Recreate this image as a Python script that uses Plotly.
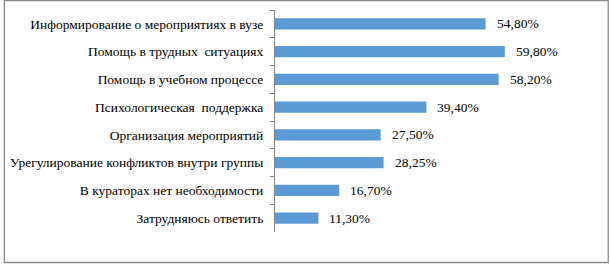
import plotly.graph_objects as go

categories = [
    "Информирование о мероприятиях в вузе",
    "Помощь в трудных  ситуациях",
    "Помощь в учебном процессе",
    "Психологическая  поддержка",
    "Организация мероприятий",
    "Урегулирование конфликтов внутри группы",
    "В кураторах нет необходимости",
    "Затрудняюсь ответить",
]
values = [54.80, 59.80, 58.20, 39.40, 27.50, 28.25, 16.70, 11.30]
value_labels = [f"{v:.2f}".replace(".", ",") + "%" for v in values]

W, H = 610, 265
ML, MT, MB = 273, 10, 33
XMAX = 70
PX_PER_UNIT = 3.869
PW = XMAX * PX_PER_UNIT
MR = W - ML - PW
PH = H - MT - MB

font = dict(family="Liberation Serif", size=13.5, color="#000000")

fig = go.Figure()
fig.add_trace(go.Bar(
    x=values, y=categories, orientation="h",
    marker=dict(color="#5B9BD5", line=dict(width=0)),
    hoverinfo="skip",
))

annotations = [
    dict(x=v, y=c, text=t, xref="x", yref="y", xanchor="left", yanchor="middle",
         xshift=9, showarrow=False, font=font)
    for v, c, t in zip(values, categories, value_labels)
]

def px2paper_x(px):
    return (px - ML) / PW

def px2paper_y(py):
    return 1 - (py - MT) / PH

fig.update_layout(
    width=W, height=H,
    margin=dict(l=ML, r=MR, t=MT, b=MB, pad=0),
    paper_bgcolor="white", plot_bgcolor="white",
    showlegend=False,
    bargap=0.6,
    font=font,
    annotations=annotations,
    shapes=[dict(type="rect", xref="paper", yref="paper",
                 x0=px2paper_x(0.5), x1=px2paper_x(608.5),
                 y0=px2paper_y(262.5), y1=px2paper_y(0.5),
                 line=dict(color="#8C8C8C", width=1.3), fillcolor="rgba(0,0,0,0)")],
    xaxis=dict(range=[0, XMAX], visible=False, fixedrange=True),
    yaxis=dict(
        autorange="reversed", type="category",
        showline=True, linecolor="#868686", linewidth=1,
        ticks="outside", ticklen=4, tickcolor="#868686", tickwidth=1,
        tickson="boundaries", showgrid=False, zeroline=False,
        ticklabelstandoff=8,
        tickfont=font,
    ),
)

fig.write_html("out.html", config={"displayModeBar": False},
               post_script="document.body.style.margin='0';")
